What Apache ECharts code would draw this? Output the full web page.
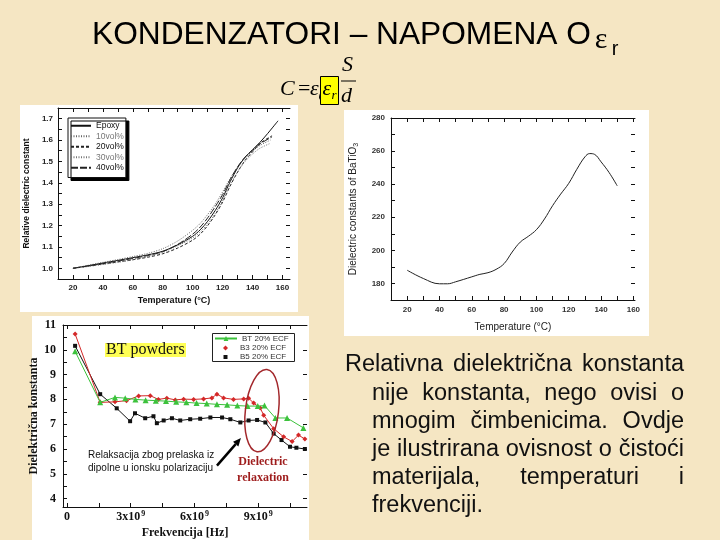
<!DOCTYPE html>
<html>
<head>
<meta charset="utf-8">
<script src="https://cdn.jsdelivr.net/npm/echarts@6.0.0/dist/echarts.min.js"></script>
<style>
html,body{margin:0;padding:0;background:#f5e6c3;}
#c{width:720px;height:540px;}
</style>
</head>
<body>
<div id="c"></div>
<script>
// ================= DATA =================
// Chart 1: relative dielectric constant vs temperature
const c1Names = ['Epoxy', '10vol%', '20vol%', '30vol%', '40vol%'];
const epoxyT = [20,30,40,50,60,70,80,90,100,105,110,115,120,125,130,135,140,145,150,157];
const epoxyV = [1.000,1.012,1.025,1.037,1.050,1.063,1.080,1.110,1.150,1.180,1.220,1.270,1.330,1.405,1.470,1.520,1.555,1.590,1.630,1.690];
const vol10T = [20,30,40,50,60,70,80,90,100,105,110,115,120,125,130,135,140,145,152];
const vol10V = [1.000,1.014,1.028,1.041,1.055,1.070,1.092,1.128,1.178,1.210,1.252,1.300,1.358,1.420,1.472,1.515,1.548,1.575,1.600];
const vol20T = [20,30,40,50,60,70,80,90,100,105,110,115,120,125,130,135,140,145,153];
const vol20V = [1.000,1.010,1.020,1.030,1.040,1.052,1.068,1.095,1.132,1.160,1.200,1.250,1.310,1.385,1.450,1.505,1.545,1.585,1.620];
const vol30T = [20,30,40,50,60,70,80,90,100,105,110,115,120,125,130,135,140,145,152];
const vol30V = [1.000,1.008,1.018,1.028,1.040,1.055,1.075,1.105,1.142,1.170,1.208,1.256,1.318,1.390,1.452,1.500,1.535,1.562,1.585];
const vol40T = [20,30,40,50,60,70,80,90,100,105,110,115,120,125,130,135,140,145,153];
const vol40V = [1.000,1.011,1.022,1.034,1.046,1.060,1.078,1.112,1.160,1.193,1.236,1.288,1.345,1.415,1.475,1.520,1.552,1.582,1.615];
const c1XLabels = [20,40,60,80,100,120,140,160];
const c1XTicks = [20,30,40,50,60,70,80,90,100,110,120,130,140,150,160];
const c1YLabels = [1.0,1.1,1.2,1.3,1.4,1.5,1.6,1.7];
const c1YTicks = [1.0,1.05,1.1,1.15,1.2,1.25,1.3,1.35,1.4,1.45,1.5,1.55,1.6,1.65,1.7];

// Chart 2: dielectric constant of BaTiO3 vs temperature
const batT = [20,30,40,45,50,60,65,70,75,80,85,90,95,100,105,110,115,120,125,130,133,136,140,145,150];
const batV = [188,183,179.8,179.8,181,184,185.5,186.5,188.5,192,199,205,208.5,212.5,219,227,234,240.5,249,256.5,258.5,258,253.5,247,239];
const c2XLabels = [20,40,60,80,100,120,140,160];
const c2XTicks = [20,30,40,50,60,70,80,90,100,110,120,130,140,150,160];
const c2YLabels = [180,200,220,240,260,280];
const c2YTicks = [180,190,200,210,220,230,240,250,260,270,280];

// Chart 3: dielectric constant vs frequency (units of 1e9 Hz)
const c3Names = ['BT 20% ECF', 'B3 20% ECF', 'B5 20% ECF'];
const btF = [0.38,1.56,2.26,2.74,3.22,3.70,4.18,4.66,5.14,5.62,6.10,6.58,7.06,7.54,8.02,8.50,8.98,9.30,9.81,10.36,11.13];
const btV = [9.94,7.88,8.08,8.05,8.00,7.97,7.95,7.93,7.90,7.88,7.85,7.83,7.80,7.78,7.75,7.73,7.73,7.75,7.25,7.25,6.85];
const b3F = [0.38,1.56,2.26,2.80,3.37,3.92,4.30,4.70,5.10,5.49,5.96,6.43,6.82,7.06,7.37,7.84,8.32,8.55,8.79,9.10,9.26,9.73,10.20,10.60,10.90,11.20];
const b3V = [10.64,7.88,7.90,7.95,8.14,8.15,8.00,8.05,7.98,8.01,8.00,8.02,8.06,8.21,8.06,8.00,8.02,8.05,7.85,7.65,7.36,6.82,6.49,6.30,6.56,6.40];
const b5F = [0.38,1.56,2.34,2.97,3.20,3.68,4.07,4.23,4.55,4.94,5.33,5.80,6.27,6.75,7.30,7.69,8.16,8.55,8.95,9.34,9.73,10.10,10.50,10.80,11.20];
const b5V = [10.16,8.21,7.64,7.12,7.44,7.24,7.32,7.04,7.15,7.24,7.15,7.20,7.22,7.27,7.27,7.20,7.07,7.15,7.17,7.07,6.62,6.36,6.09,6.05,6.00];
const c3XLabels = [0,3,6,9];
const c3XTicks = [0,1.5,3,4.5,6,7.5,9,10.5];
const c3YLabels = [4,5,6,7,8,9,10,11];
const c3YTicks = [4,4.5,5,5.5,6,6.5,7,7.5,8,8.5,9,9.5,10,10.5,11];

// Text
const titleText = 'KONDENZATORI – NAPOMENA O';
const paraLines = [
  'Relativna dielektrična konstanta',
  'nije konstanta, nego ovisi o',
  'mnogim čimbenicima. Ovdje',
  'je ilustrirana ovisnost o čistoći',
  'materijala, temperaturi i',
  'frekvenciji.'
];

// ================= RENDER =================
const SANS = '"Liberation Sans", Arial, sans-serif';
const SERIF = '"Liberation Serif", "Times New Roman", serif';
const chart = echarts.init(document.getElementById('c'), null, {renderer: 'canvas'});
const pairs = (xs, ys) => xs.map((x, i) => [x, ys[i]]);

function axis(grid, min, max, pos, labels, ticks, labelStyle, showLine, name, nameStyle, nameGap) {
  const a = {
    type: 'value', gridIndex: grid, min: min, max: max, position: pos,
    axisLine: {show: showLine, onZero: false, lineStyle: {color: '#111', width: 1}},
    axisTick: {show: true, inside: true, length: 4, customValues: ticks, lineStyle: {color: '#111', width: 1}},
    axisLabel: labels ? Object.assign({show: true, customValues: labels}, labelStyle) : {show: false},
    splitLine: {show: false}
  };
  if (name) {
    a.name = name; a.nameLocation = 'middle'; a.nameGap = nameGap; a.nameTextStyle = nameStyle;
  }
  return a;
}

const c1Lab = {fontSize: 8, fontWeight: 'bold', fontFamily: SANS, color: '#222', margin: 5};
const c2Lab = {fontSize: 8, fontWeight: 'bold', fontFamily: SANS, color: '#333', margin: 6};
const c3YLab = {fontSize: 12, fontWeight: 'bold', fontFamily: SERIF, color: '#111', margin: 7};
const c3XLab = {
  margin: 3,
  formatter: v => v === 0 ? '{b|0}' : '{b|' + v + 'x10}{s|9}',
  rich: {
    b: {fontSize: 12, fontWeight: 'bold', fontFamily: SERIF, color: '#111', lineHeight: 14},
    s: {fontSize: 8, fontWeight: 'bold', fontFamily: SERIF, color: '#111', verticalAlign: 'top', lineHeight: 8, padding: [0, 0, 0, 1]}
  }
};

const xAxes = [
  axis(0, 10, 165, 'bottom', c1XLabels, c1XTicks, c1Lab, true, 'Temperature (°C)',
       {fontSize: 9, fontWeight: 'bold', fontFamily: SANS, color: '#111'}, 17),
  axis(0, 10, 165, 'top', null, c1XTicks, null, true),
  axis(1, 10, 161, 'bottom', c2XLabels, c2XTicks, c2Lab, true, 'Temperature (°C)',
       {fontSize: 10, fontFamily: SANS, color: '#222'}, 22),
  axis(1, 10, 161, 'top', null, c2XTicks, null, true),
  axis(2, -0.19, 11.3, 'bottom', c3XLabels, c3XTicks, c3XLab, true, 'Frekvencija [Hz]',
       {fontSize: 12, fontWeight: 'bold', fontFamily: SERIF, color: '#111'}, 20),
  axis(2, -0.19, 11.3, 'top', null, c3XTicks, null, true)
];
const yAxes = [
  axis(0, 0.95, 1.75, 'left', c1YLabels, c1YTicks, Object.assign({formatter: v => v.toFixed(1)}, c1Lab), true,
       'Relative dielectric constant', {fontSize: 8.5, fontWeight: 'bold', fontFamily: SANS, color: '#111'}, 27),
  axis(0, 0.95, 1.75, 'right', null, c1YTicks, null, false),
  axis(1, 170, 280, 'left', c2YLabels, c2YTicks, c2Lab, true,
       '{a|Dielectric constants of BaTiO}{s|3}',
       {rich: {a: {fontSize: 10, fontFamily: SANS, color: '#222'},
               s: {fontSize: 7, fontFamily: SANS, color: '#222', padding: [6, 0, 0, 0]}}}, 31),
  axis(1, 170, 280, 'right', null, c2YTicks, null, false),
  axis(2, 3.66, 11, 'left', c3YLabels, c3YTicks, c3YLab, true, 'Dielektrična konstanta',
       {fontSize: 12, fontWeight: 'bold', fontFamily: SERIF, color: '#111'}, 19),
  axis(2, 3.66, 11, 'right', null, c3YLabels, null, false)
];

const c1Styles = [
  {color: '#111', type: 'solid'},
  {color: '#666', type: [1, 1.5]},
  {color: '#222', type: [3, 2]},
  {color: '#777', type: [1, 1.5]},
  {color: '#222', type: [7, 2]}
];
const c1Data = [pairs(epoxyT, epoxyV), pairs(vol10T, vol10V), pairs(vol20T, vol20V), pairs(vol30T, vol30V), pairs(vol40T, vol40V)];

const series = [];
c1Names.forEach((n, i) => series.push({
  type: 'line', name: n, xAxisIndex: 0, yAxisIndex: 0, data: c1Data[i], symbol: 'none',
  smooth: 0.3, lineStyle: {color: c1Styles[i].color, width: 1, type: c1Styles[i].type},
  itemStyle: {color: c1Styles[i].color}, z: 3
}));
series.push({
  type: 'line', name: 'BaTiO3', xAxisIndex: 2, yAxisIndex: 2, data: pairs(batT, batV), symbol: 'none',
  smooth: 0.4, lineStyle: {color: '#222', width: 1}, z: 3
});
series.push({
  type: 'line', name: c3Names[2], xAxisIndex: 4, yAxisIndex: 4, data: pairs(b5F, b5V),
  symbol: 'rect', symbolSize: 4, lineStyle: {color: '#111', width: 1}, itemStyle: {color: '#111'}, z: 3
});
series.push({
  type: 'line', name: c3Names[1], xAxisIndex: 4, yAxisIndex: 4, data: pairs(b3F, b3V),
  symbol: 'diamond', symbolSize: 5, lineStyle: {color: '#d42828', width: 1}, itemStyle: {color: '#d42828'}, z: 4
});
series.push({
  type: 'line', name: c3Names[0], xAxisIndex: 4, yAxisIndex: 4, data: pairs(btF, btV),
  symbol: 'triangle', symbolSize: 6, lineStyle: {color: '#3cc23c', width: 1}, itemStyle: {color: '#3cc23c'}, z: 5
});

const legends = [
  {
    orient: 'vertical', left: 68, top: 118, itemWidth: 20, itemHeight: 8, itemGap: 1,
    padding: [3, 2, 5, 2], backgroundColor: '#fff', borderColor: '#111', borderWidth: 1,
    shadowColor: '#000', shadowOffsetX: 3, shadowOffsetY: 3, shadowBlur: 0, selectedMode: false,
    itemStyle: {color: 'rgba(0,0,0,0)', borderColor: 'rgba(0,0,0,0)', borderWidth: 0, opacity: 0},
    textStyle: {fontSize: 8.5, fontFamily: SANS, color: '#111', lineHeight: 9.5},
    data: c1Names.map((n, i) => ({name: n, textStyle: {color: (i === 1 || i === 3) ? '#777' : '#111'}}))
  },
  {
    left: 214, top: 334, itemWidth: 22, itemHeight: 6, padding: 0, selectedMode: false,
    textStyle: {fontSize: 8, fontFamily: SANS, color: '#333', lineHeight: 9}, data: [c3Names[0]]
  },
  {
    left: 223, top: 343.5, itemWidth: 5, itemHeight: 5, padding: 0, selectedMode: false,
    textStyle: {fontSize: 8, fontFamily: SANS, color: '#333', lineHeight: 9, padding: [0, 0, 0, 7]},
    data: [{name: c3Names[1], icon: 'diamond'}]
  },
  {
    left: 223.5, top: 352.5, itemWidth: 4, itemHeight: 4, padding: 0, selectedMode: false,
    textStyle: {fontSize: 8, fontFamily: SANS, color: '#333', lineHeight: 9, padding: [0, 0, 0, 7.5]},
    data: [{name: c3Names[2], icon: 'rect'}]
  }
];

// graphic helpers
function txt(x, y, text, font, fill, align) {
  return {type: 'text', x: x, y: y, z: 5, silent: true,
    style: {text: text, font: font, fill: fill || '#000', align: align || 'left', verticalAlign: 'middle',
            textAlign: align || 'left', textVerticalAlign: 'middle'}};
}
function rect(x, y, w, h, fill, stroke, z) {
  return {type: 'rect', z: z, silent: true, shape: {x: x, y: y, width: w, height: h},
    style: {fill: fill, stroke: stroke || null, lineWidth: stroke ? 1 : 0}};
}

const measureCtx = document.createElement('canvas').getContext('2d');
function textW(s, font) { measureCtx.font = font; return measureCtx.measureText(s).width; }

const graphics = [];
// white picture backgrounds
graphics.push(rect(20, 105, 278, 207, '#fff', null, -2));
graphics.push(rect(344, 110, 305, 226, '#fff', null, -2));
graphics.push(rect(32, 316, 277, 224, '#fff', null, -2));
// chart 3 legend frame
graphics.push(rect(212.5, 333.5, 82, 28, '#fff', '#222', -1));

// title
const TITLE_FONT = '31.7px "Liberation Sans"';
graphics.push(txt(92, 35.7, titleText, TITLE_FONT, '#000'));
const tEnd = 92 + textW(titleText, TITLE_FONT);
graphics.push(txt(tEnd + 4, 50 - 0.3375 * 30, 'ε', '30px "Liberation Serif"', '#000'));
graphics.push(txt(tEnd + 21, 56 - 0.3465 * 20, 'r', '20px "Liberation Sans"', '#000'));

// formula C = eps0 epsr S/d
const FI = 'italic 22px "Liberation Serif"';
const FIs = 'italic 13px "Liberation Serif"';
graphics.push(txt(280, 97 - 7.4, 'C', FI));
graphics.push(txt(298, 97 - 7.4, '=', '22px "Liberation Serif"'));
graphics.push(txt(310, 97 - 7.4, 'ε', FI));
graphics.push(txt(318.5, 101 - 4.4, '0', FIs));
graphics.push(rect(320.5, 76.5, 18, 28, '#ffff00', '#000', 6));
graphics.push(Object.assign(txt(322.5, 97 - 7.4, 'ε', FI), {z: 7}));
graphics.push(Object.assign(txt(331.5, 100 - 4.4, 'r', FIs), {z: 7}));
graphics.push(txt(342, 73 - 7.4, 'S', FI));
graphics.push({type: 'line', z: 5, silent: true, shape: {x1: 341, y1: 81, x2: 356, y2: 81}, style: {stroke: '#000', lineWidth: 1}});
graphics.push(txt(341, 104 - 7.4, 'd', FI));

// chart 3 annotations
graphics.push(rect(105, 343, 81, 14, '#ffff55', null, 4));
graphics.push(txt(106, 350.2, 'BT powders', '16px "Liberation Serif"', '#111'));
graphics.push(txt(88, 455, 'Relaksacija zbog prelaska iz', '10px "Liberation Sans"', '#111'));
graphics.push(txt(88, 468, 'dipolne u ionsku polarizaciju', '10px "Liberation Sans"', '#111'));
graphics.push(txt(263, 462, 'Dielectric', 'bold 12px "Liberation Serif"', '#9e1c1c', 'center'));
graphics.push(txt(263, 478, 'relaxation', 'bold 12px "Liberation Serif"', '#9e1c1c', 'center'));

// justified paragraph
const PARA_FONT = '23.5px "Liberation Sans"';
paraLines.forEach((line, i) => {
  const left = i === 0 ? 345 : 372, right = 684, y = 365 + i * 28.2;
  const words = line.split(' ');
  const last = i === paraLines.length - 1;
  const ws = words.map(w => textW(w, PARA_FONT));
  const total = ws.reduce((a, b) => a + b, 0);
  const gap = (last || words.length < 2) ? textW(' ', PARA_FONT) : (right - left - total) / (words.length - 1);
  let x = left;
  words.forEach((w, j) => { graphics.push(txt(x, y, w, PARA_FONT, '#111')); x += ws[j] + gap; });
});

chart.setOption({
  backgroundColor: '#f5e6c3',
  animation: false,
  grid: [
    {left: 58, top: 108, width: 232, height: 171},
    {left: 391, top: 118, width: 244, height: 182},
    {left: 63, top: 325, width: 244, height: 185}
  ],
  xAxis: xAxes,
  yAxis: yAxes,
  legend: legends,
  series: series,
  graphic: graphics
});

// ellipse + arrow anchored on chart-3 data coordinates
const f3 = {xAxisIndex: 4, yAxisIndex: 4};
const cen = chart.convertToPixel(f3, [9.18, 7.55]);
const ex = chart.convertToPixel(f3, [9.18 + 0.78, 7.55 + 1.67]);
const tail = chart.convertToPixel(f3, [7.06, 5.33]);
const tip = chart.convertToPixel(f3, [8.19, 6.44]);
const ang = Math.atan2(tip[1] - tail[1], tip[0] - tail[0]);
const hl = 8, hw = 3.5;
const base = [tip[0] - hl * Math.cos(ang), tip[1] - hl * Math.sin(ang)];
const nx = -Math.sin(ang), ny = Math.cos(ang);
graphics.push({
  type: 'ellipse', x: cen[0], y: cen[1], rotation: -0.12, z: 6, silent: true,
  shape: {cx: 0, cy: 0, rx: Math.abs(ex[0] - cen[0]), ry: Math.abs(ex[1] - cen[1])},
  style: {fill: null, stroke: '#a3282c', lineWidth: 1.5}
});
graphics.push({type: 'line', z: 6, silent: true,
  shape: {x1: tail[0], y1: tail[1], x2: base[0], y2: base[1]}, style: {stroke: '#000', lineWidth: 2.5}});
graphics.push({type: 'polygon', z: 6, silent: true,
  shape: {points: [tip, [base[0] + nx * hw, base[1] + ny * hw], [base[0] - nx * hw, base[1] - ny * hw]]},
  style: {fill: '#000'}});
chart.setOption({graphic: graphics});
</script>
</body>
</html>
